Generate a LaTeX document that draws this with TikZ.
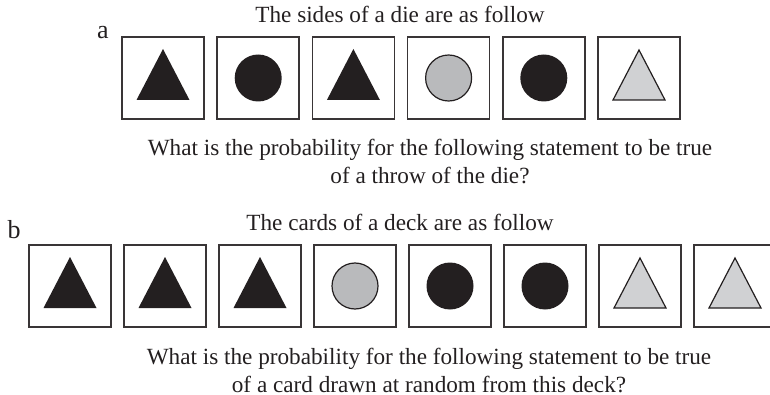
\documentclass[tikz,border=0pt]{standalone}
\usepackage{fontspec}
\setmainfont{Liberation Serif}
\usetikzlibrary{positioning}
\definecolor{ink}{HTML}{231F20}
\definecolor{greydot}{HTML}{B9BABC}
\definecolor{greytri}{HTML}{D0D1D3}
\tikzset{
    face/.style={draw=ink!90, line width=0.75pt, minimum size=41pt, inner sep=0pt},
    caption/.style={font=\fontsize{11.6}{14}\selectfont, text=ink, align=center},
    tag/.style={font=\fontsize{13}{14}\selectfont, text=ink},
    pics/darktri/.style={code={\fill[ink] (0,-29) -- (26.5,22) -- (-26.5,22) -- cycle;}},
    pics/greytri/.style={code={\filldraw[fill=greytri, draw=ink, line width=0.6pt] (0,-28) -- (26,22) -- (-26,22) -- cycle;}},
    pics/darkdot/.style={code={\fill[ink] (0,0) circle (23.5);}},
    pics/greydot/.style={code={\filldraw[fill=greydot, draw=ink, line width=0.6pt] (0,0) circle (23);}}
}

\begin{document}
\begin{tikzpicture}[x=0.5pt, y=-0.5pt]
        \useasboundingbox (0,0) rectangle (770,395);
        % (a) the die
        \node[caption] (titlea) at (400,14) {The sides of a die are as follow};
        \node[tag] (labela) at (103,33) {a};
        \foreach \kind [count=\i] in {darktri, darkdot, darktri, greydot, darkdot, greytri} {
            \node[face] (side\i) at ({163+95.2*(\i-1)},78) {};
            \pic at (side\i) {\kind};
        }
        \node[caption] (querya) at (430,161) {What is the probability for the following statement to be true\\of a throw of the die?};
        %
        % (b) the deck
        \node[caption] (titleb) at (400,222) {The cards of a deck are as follow};
        \node[tag] (labelb) at (14,230) {b};
        \foreach \kind [count=\i] in {darktri, darktri, darktri, greydot, darkdot, darkdot, greytri, greytri} {
            \node[face] (card\i) at ({70+95*(\i-1)},286) {};
            \pic at (card\i) {\kind};
        }
        \node[caption] (queryb) at (429,370) {What is the probability for the following statement to be true\\of a card drawn at random from this deck?};
    \end{tikzpicture}
\end{document}
